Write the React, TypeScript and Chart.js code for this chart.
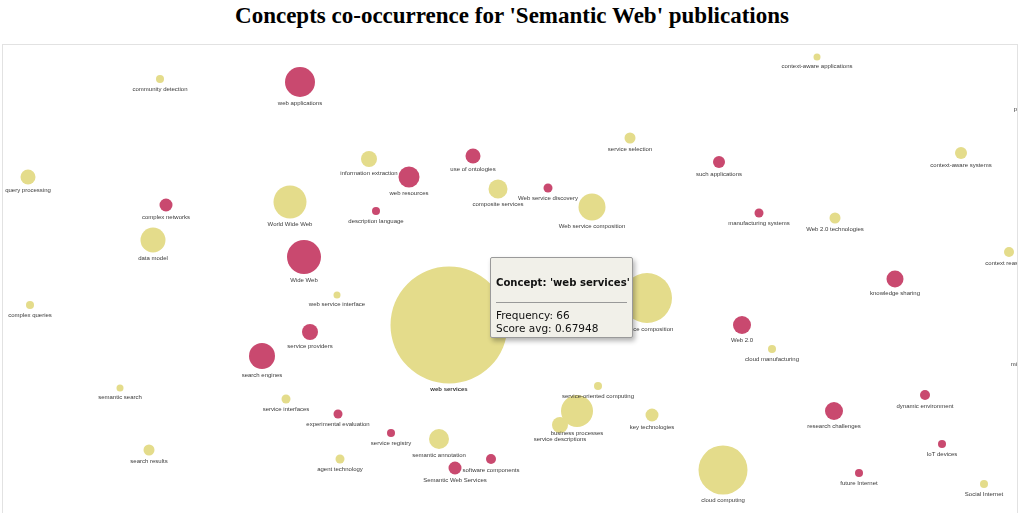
import React, { useEffect, useRef } from "react";
import { Chart, registerables } from "chart.js";

Chart.register(...registerables);

const concepts = [
  "community detection", "web applications", "information extraction", "web resources", "use of ontologies",
  "query processing", "complex networks", "World Wide Web", "description language", "composite services",
  "data model", "Wide Web", "web services", "context-aware applications", "personalization",
  "service selection", "such applications", "context-aware systems", "Web service discovery", "Web service composition",
  "manufacturing systems", "Web 2.0 technologies", "context reasoning", "knowledge sharing", "service composition",
  "Web 2.0", "cloud manufacturing", "microservices", "service-oriented computing", "business processes",
  "service descriptions", "key technologies", "research challenges", "dynamic environment", "IoT devices",
  "future Internet", "cloud computing", "Social Internet", "complex queries", "web service interface",
  "service providers", "search engines", "semantic search", "service interfaces", "experimental evaluation",
  "service registry", "semantic annotation", "search results", "agent technology", "software components",
  "Semantic Web Services",
];
const posX = [
  160, 300, 369, 409, 473,
  28, 166, 290, 376, 498,
  153, 304, 449, 817, 1034,
  630, 719, 961, 548, 592,
  759, 835, 1009, 895, 647,
  742, 772, 1029, 598, 577,
  560, 652, 834, 925, 942,
  859, 723, 984, 30, 337,
  310, 262, 120, 286, 338,
  391, 439, 149, 340, 491,
  455,
];
const posY = [
  79, 82, 159, 177, 156,
  177, 205, 202, 211, 189,
  240, 257, 325, 57, 99,
  138, 162, 153, 188, 207,
  213, 218, 252, 279, 298,
  325, 349, 354, 386, 411,
  425, 415, 411, 395, 444,
  473, 470, 484, 305, 295,
  332, 356, 388, 399, 414,
  433, 439, 450, 459, 459,
  468,
];
const sizes = [
  4, 15, 8, 10.5, 7.5,
  7.5, 6.5, 16.5, 4, 9.5,
  12.5, 17, 58.5, 3.5, 4,
  5.5, 6, 6, 4.5, 13.5,
  4.5, 5.5, 5, 8.5, 25,
  9, 4, 4, 4, 16,
  8, 6.5, 9, 5, 4,
  4, 24.5, 4, 4, 3.5,
  8, 13, 3.5, 4.5, 4.5,
  4, 10, 5.5, 4.5, 5,
  6.5,
];
// 0 = yellow group, 1 = red group
const groups = [
  0, 1, 0, 1, 1,
  0, 1, 0, 1, 0,
  0, 1, 0, 0, 0,
  0, 1, 0, 1, 0,
  1, 0, 0, 1, 0,
  1, 0, 0, 0, 0,
  0, 0, 1, 1, 1,
  1, 0, 0, 0, 0,
  1, 1, 0, 0, 1,
  1, 0, 0, 0, 1,
  1,
];
const frequencies: Record<number, number> = { 12: 66 };
const scoreAvgs: Record<number, string> = { 12: "0.67948" };
const hoveredIndex = 12;

const groupColors = ["#e4dc8b", "#c9496f"];

export default function App() {
  const canvasRef = useRef<HTMLCanvasElement | null>(null);
  const tipRef = useRef<HTMLDivElement | null>(null);

  useEffect(() => {
    document.body.style.margin = "0";
    document.body.style.overflow = "hidden";
    const canvas = canvasRef.current;
    if (!canvas) return;

    const labelPlugin = {
      id: "bubbleLabels",
      afterDatasetsDraw(chart: any) {
        const ctx = chart.ctx;
        const meta = chart.getDatasetMeta(0);
        ctx.save();
        ctx.textAlign = "center";
        ctx.textBaseline = "middle";
        ctx.fillStyle = "#3a3a3a";
        meta.data.forEach((el: any, i: number) => {
          const r = el.options.radius;
          ctx.font = (i === hoveredIndex ? "bold " : "") + "6px 'Liberation Sans', Arial, sans-serif";
          ctx.fillText(concepts[i], el.x, el.y + r + 6);
        });
        ctx.restore();
      },
    };

    const external = (context: any) => {
      const tip = tipRef.current;
      if (!tip) return;
      const t = context.tooltip;
      if (t.opacity === 0) {
        tip.style.display = "none";
        return;
      }
      const i = t.dataPoints && t.dataPoints.length ? t.dataPoints[0].dataIndex : hoveredIndex;
      tip.style.display = "block";
      tip.style.left = 3 + t.caretX + 41 + "px";
      tip.style.top = 45 + t.caretY - 68 + "px";
      const title = tip.querySelector(".tt-title") as HTMLElement;
      const l1 = tip.querySelector(".tt-l1") as HTMLElement;
      const l2 = tip.querySelector(".tt-l2") as HTMLElement;
      title.textContent = "Concept: '" + concepts[i] + "'";
      l1.textContent = "Frequency: " + (frequencies[i] ?? "");
      l2.textContent = "Score avg: " + (scoreAvgs[i] ?? "");
    };

    const chart = new Chart(canvas, {
      type: "bubble",
      data: {
        datasets: [
          {
            data: posX.map((x, i) => ({ x, y: posY[i], r: sizes[i] })),
            backgroundColor: groups.map((g) => groupColors[g]),
            borderWidth: 0,
            hoverBorderWidth: 0,
            hoverRadius: 0,
            clip: false as any,
          } as any,
        ],
      },
      options: {
        responsive: false,
        maintainAspectRatio: false,
        animation: false,
        events: [],
        layout: { padding: 0, autoPadding: false },
        scales: {
          x: { type: "linear", display: false, min: 3, max: 1103 },
          y: { type: "linear", display: false, min: 45, max: 515, reverse: true },
        },
        plugins: {
          legend: { display: false },
          tooltip: { enabled: false, external },
        },
      },
      plugins: [labelPlugin],
    });

    const el = chart.getDatasetMeta(0).data[hoveredIndex];
    chart.tooltip!.setActiveElements([{ datasetIndex: 0, index: hoveredIndex }], { x: el.x, y: el.y });
    chart.update();

    return () => chart.destroy();
  }, []);

  return (
    <div style={{ position: "fixed", left: 0, top: 0, width: 1024, height: 513, overflow: "hidden", background: "#fff" }}>
      <div
        style={{
          position: "absolute",
          left: 0,
          top: 1,
          width: 1024,
          textAlign: "center",
          font: "bold 23px 'Liberation Serif', 'Times New Roman', serif",
          lineHeight: "30px",
          color: "#000",
        }}
      >
        Concepts co-occurrence for 'Semantic Web' publications
      </div>
      <div
        style={{
          position: "absolute",
          left: 2,
          top: 44,
          width: 1014,
          height: 480,
          border: "1px solid #e2e2e2",
          overflow: "hidden",
        }}
      >
        <canvas ref={canvasRef} width={1100} height={470} style={{ position: "absolute", left: 0, top: 0, width: 1100, height: 470 }} />
      </div>
      <div
        ref={tipRef}
        style={{
          position: "absolute",
          display: "none",
          width: 131,
          padding: "16px 5px 2px 5px",
          background: "#f1f0e9",
          border: "1px solid #9a9a9a",
          borderRadius: 2,
          boxShadow: "2px 3px 5px rgba(0,0,0,0.3)",
          font: "10.5px 'DejaVu Sans', Verdana, sans-serif",
          color: "#111",
          boxSizing: "content-box",
        }}
      >
        <div className="tt-title" style={{ fontWeight: "bold", fontSize: "10.1px", lineHeight: "18px", whiteSpace: "nowrap" }}></div>
        <div style={{ height: 1, background: "#999", margin: "10px 0 6px 0" }}></div>
        <div className="tt-l1" style={{ lineHeight: "13px", whiteSpace: "nowrap" }}></div>
        <div className="tt-l2" style={{ lineHeight: "13px", whiteSpace: "nowrap" }}></div>
      </div>
    </div>
  );
}
